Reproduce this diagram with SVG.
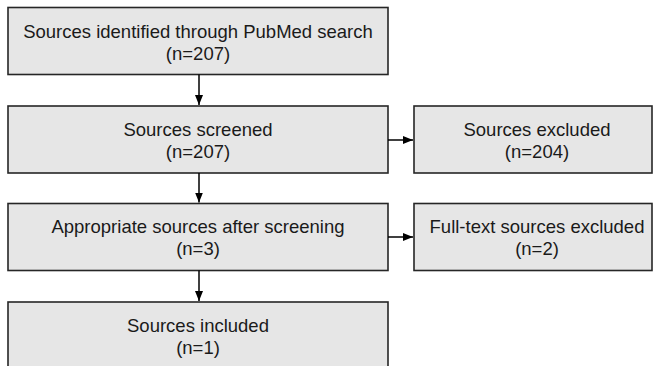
<svg xmlns="http://www.w3.org/2000/svg" width="653" height="366" viewBox="0 0 653 366">
<style>
.box{fill:#e6e6e6;stroke:#262626;stroke-width:1.6}
.t{font-family:"Liberation Sans",Arial,sans-serif;font-size:18.5px;fill:#1a1a1a;text-anchor:middle}
.c{stroke:#000;stroke-width:1.5;fill:none}
</style>
<defs>
<marker id="ah" markerWidth="10" markerHeight="8" refX="10" refY="4" orient="auto" markerUnits="userSpaceOnUse">
<path d="M0,0 L10,4 L0,8 Z" fill="#000"/>
</marker>
</defs>
<rect width="653" height="366" fill="#fff"/>
<g id="n1"><rect class="box" x="8" y="7.5" width="380" height="67"/><text class="t" x="198" y="37.5">Sources identified through PubMed search</text><text class="t" x="198" y="59.5">(n=207)</text></g>
<g id="n2"><rect class="box" x="8" y="106" width="380" height="67"/><text class="t" x="198" y="136">Sources screened</text><text class="t" x="198" y="158">(n=207)</text></g>
<g id="n3"><rect class="box" x="414" y="106" width="238" height="67"/><text class="t" x="537" y="136">Sources excluded</text><text class="t" x="537" y="158">(n=204)</text></g>
<g id="n4"><rect class="box" x="8" y="203.5" width="380" height="67"/><text class="t" x="198" y="233">Appropriate sources after screening</text><text class="t" x="198" y="255">(n=3)</text></g>
<g id="n5"><rect class="box" x="414" y="203.5" width="238" height="67"/><text class="t" x="537" y="233">Full-text sources excluded</text><text class="t" x="537" y="255">(n=2)</text></g>
<g id="n6"><rect class="box" x="8" y="302" width="380" height="80"/><text class="t" x="198" y="332">Sources included</text><text class="t" x="198" y="354">(n=1)</text></g>
<g id="connectors">
<line class="c" x1="199" y1="74.5" x2="199" y2="105" marker-end="url(#ah)"/>
<line class="c" x1="199" y1="173" x2="199" y2="202.5" marker-end="url(#ah)"/>
<line class="c" x1="199" y1="270.5" x2="199" y2="301" marker-end="url(#ah)"/>
<line class="c" x1="388" y1="140" x2="413" y2="140" marker-end="url(#ah)"/>
<line class="c" x1="388" y1="237" x2="413" y2="237" marker-end="url(#ah)"/>
</g>
</svg>
